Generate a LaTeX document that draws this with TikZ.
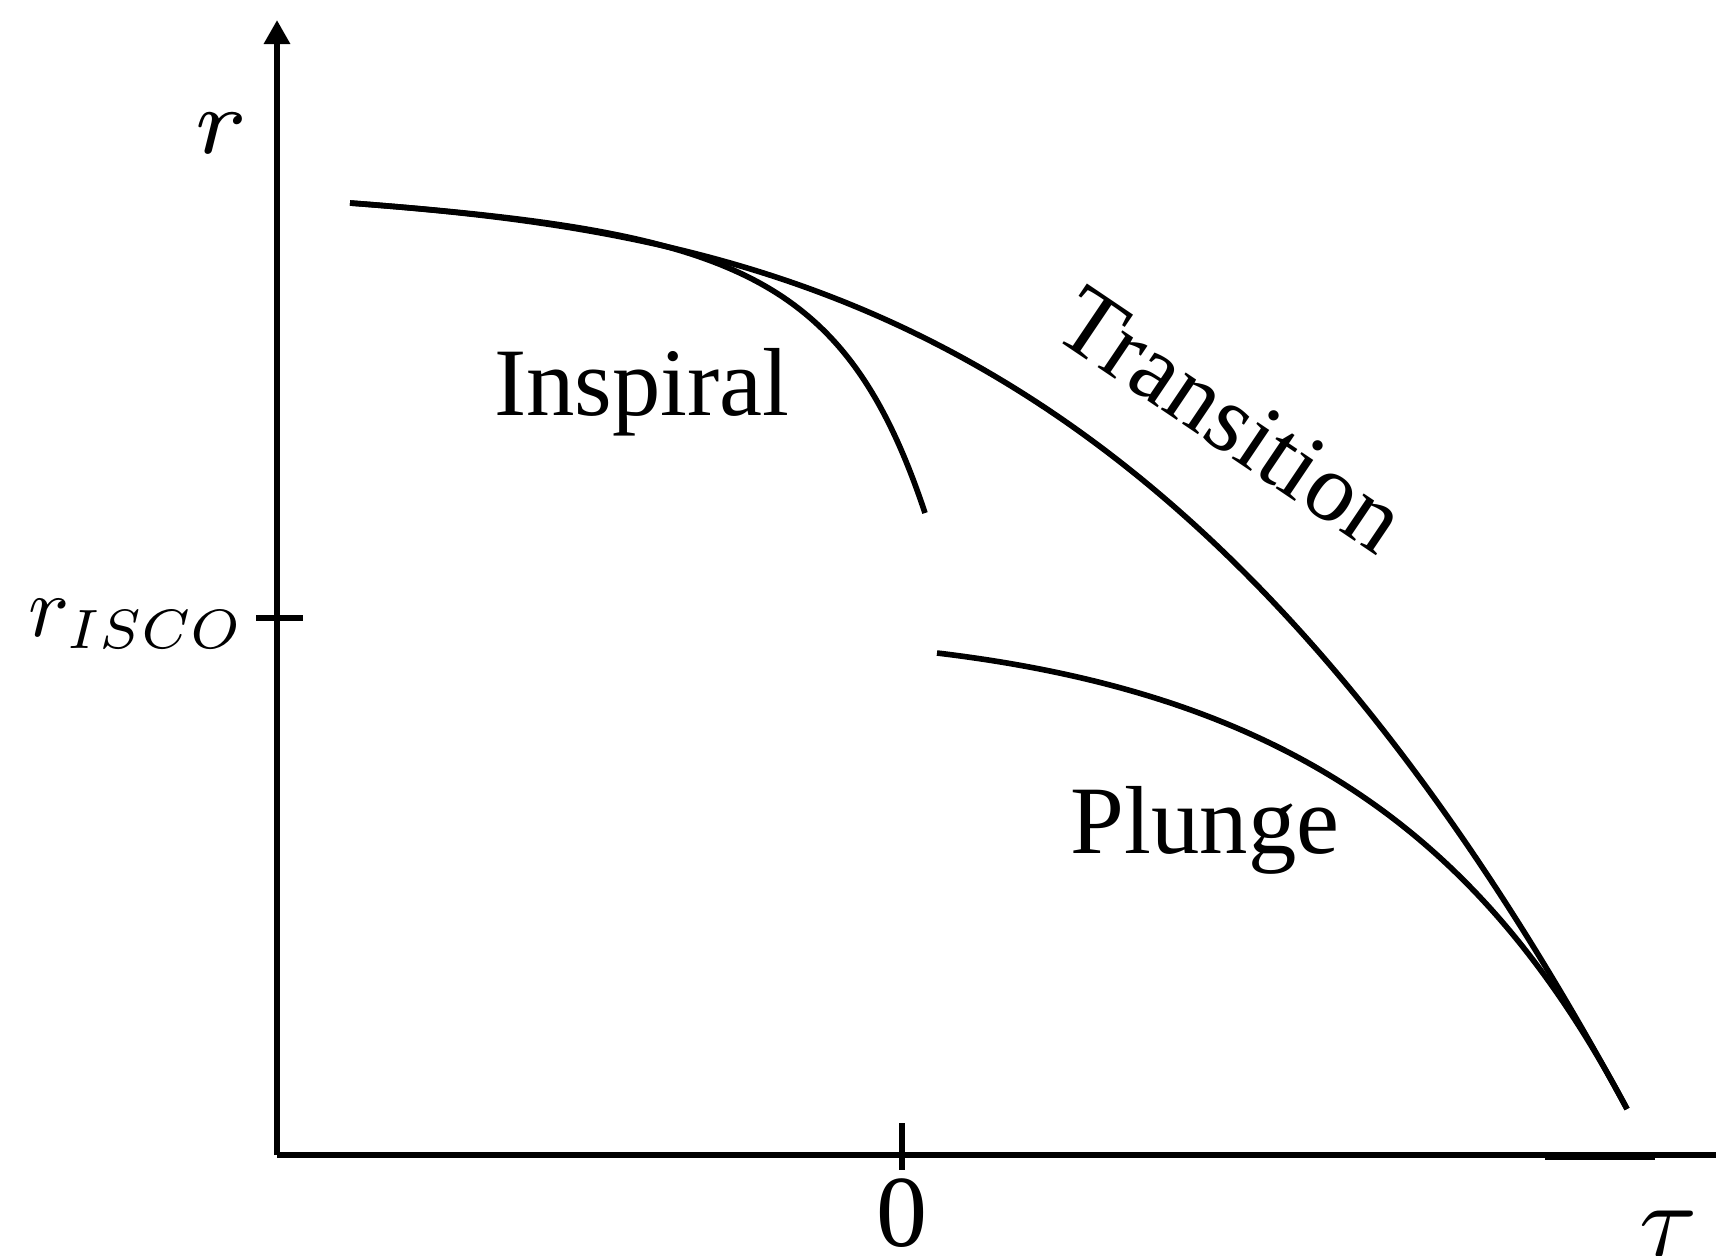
\documentclass[tikz,border=0pt]{standalone}
\usepackage{fontspec}
\setmainfont{Liberation Serif}
\usetikzlibrary{arrows.meta}

\begin{document}
\begin{tikzpicture}[
    x=0.01cm, y=-0.01cm,
    >={Triangle[width=0.25cm, length=0.24cm]},
    every node/.style={inner sep=0pt},
    axis/.style={line width=1.7pt},
    orbit/.style={line width=1.6pt},
    region/.style={font=\fontsize{27.5}{33}\selectfont}
]
\useasboundingbox (0,0) rectangle (1716,1255);

% Axes
\draw[->, axis] (277,1155) -- (277,20);
\draw[axis] (277,1155) -- (1720,1155);
\draw[axis] (1545,1157) -- (1655,1157);

% Ticks
\draw[axis] (256,618) -- (303,618);
\draw[axis] (902,1123) -- (902,1170);

% Axis labels
\node[anchor=base] (rlabel) at (221,154) {\scalebox{3.8}{\fontsize{7}{8}\selectfont$r$}};
\node[anchor=base east] (risco) at (246,636) {\scalebox{2.45}{$r_{\scalebox{0.92}{$\scriptstyle ISCO$}}$}};
\node[anchor=base] (taulabel) at (1668,1256) {\scalebox{3}{$\tau$}};
\node[font=\fontsize{29}{35}\selectfont, anchor=base] (zero) at (902,1246) {0};

% Transition curve
\draw[orbit] (350,203) .. controls (776,235) and (1201,321) .. (1627,1109);

% Inspiral curve
\draw[orbit] (350,203) .. controls (730,232) and (844,270) .. (925,513);

% Plunge curve
\draw[orbit] (937,653) .. controls (1297,696) and (1487,844) .. (1627,1109);

% Region labels
\node[region, anchor=base] (inspiral) at (642,415) {Inspiral};
\node[region, anchor=base] (plunge) at (1205,853) {Plunge};
\node[region, anchor=base, rotate=-34] (transition) at (1214,446) {Transition};

\end{tikzpicture}
\end{document}
